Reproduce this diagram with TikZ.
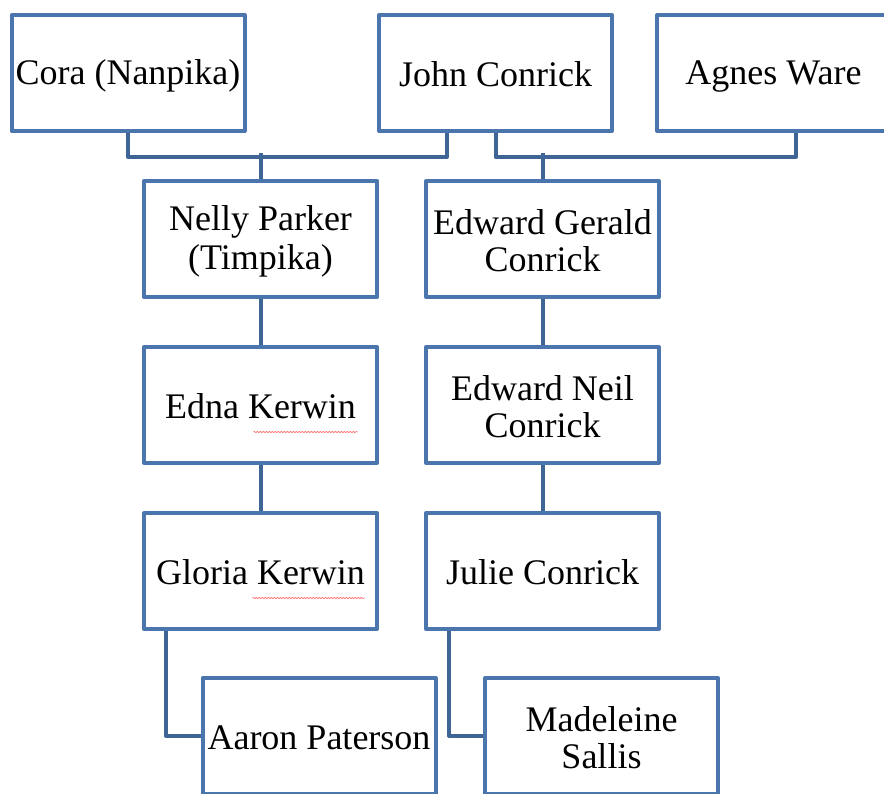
\documentclass[tikz,border=0pt]{standalone}
\usepackage{fontspec}
\setmainfont{Liberation Serif}
\usetikzlibrary{calc,decorations.pathmorphing}
\definecolor{boxblue}{RGB}{74,118,173}
\definecolor{linkblue}{RGB}{62,101,150}
\newcommand\namestrut{\rule[-3pt]{0pt}{33pt}}
\begin{document}
\begin{tikzpicture}[x=1pt, y=-1pt, font=\fontsize{36}{37}\selectfont, line join=round,
	person/.style={draw=boxblue, line width=4pt, fill=white, minimum width=233pt, minimum height=116pt, inner sep=0pt, align=center},
	link/.style={draw=linkblue, line width=4pt},
	spellmark/.style={draw=red!55, line width=0.7pt, decorate, decoration={snake, segment length=3pt, amplitude=0.7pt}}]
	\useasboundingbox (0,0) rectangle (884,793);
	\clip (0,0) rectangle (884,793);
	\def\colL{260.5}
	\def\colR{542.5}
	% --- parents
	\node[person] (cora) at (128,73) {\namestrut Cora (Nanpika)};
	\node[person] (john) at (495.5,73) {\namestrut John Conrick};
	\node[person] (agnes) at (773.5,73) {\namestrut Agnes Ware};
	% --- two lines down
	\node[person] (nelly) at (\colL,239) {\namestrut Nelly Parker\\\namestrut (Timpika)};
	\node[person] (gerald) at (\colR,239) {\namestrut Edward Gerald\\\namestrut Conrick};
	\node[person] (edna) at (\colL,405) {\namestrut Edna Kerwin};
	\node[person] (neil) at (\colR,405) {\namestrut Edward Neil\\\namestrut Conrick};
	\node[person] (gloria) at (\colL,571) {\namestrut Gloria Kerwin};
	\node[person] (julie) at (\colR,571) {\namestrut Julie Conrick};
	\node[person] (aaron) at (319,736) {\namestrut Aaron Paterson};
	\node[person] (madeleine) at (601.5,736) {\namestrut Madeleine\\\namestrut Sallis};
	% --- links
	\draw[link] (cora.south) -- ++(0,24) -| ($(john.south)+(-48.5,0)$);
	\draw[link] (nelly.north) -- ++(0,-26);
	\draw[link] (john.south) -- ++(0,24) -| ($(agnes.south)+(22.5,0)$);
	\draw[link] (gerald.north) -- ++(0,-26);
	\draw[link] (nelly.south) -- (edna.north);
	\draw[link] (edna.south) -- (gloria.north);
	\draw[link] (gerald.south) -- (neil.north);
	\draw[link] (neil.south) -- (julie.north);
	\draw[link] ($(gloria.south west)+(24,0)$) |- (aaron.west);
	\draw[link] ($(julie.south west)+(25,0)$) |- (madeleine.west);
	% --- spelling marks
	\draw[spellmark] ($(edna.center)+(-7,27)$) -- ++(104,0);
	\draw[spellmark] ($(gloria.center)+(-8,27)$) -- ++(112,0);
\end{tikzpicture}
\end{document}
